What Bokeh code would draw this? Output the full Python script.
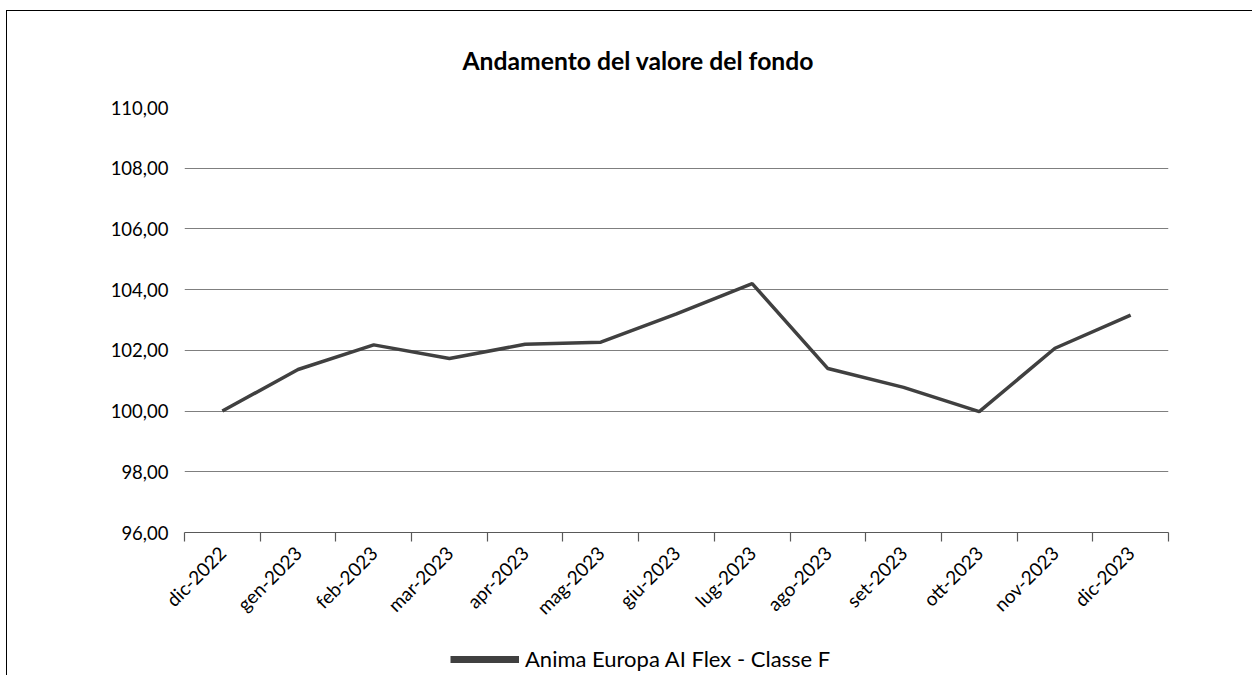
from bokeh.plotting import figure
from bokeh.layouts import column
from bokeh.models import (FixedTicker, Range1d, Legend, LegendItem, Title)
from bokeh.embed import file_html
from bokeh.resources import INLINE

# ---- data ----
months = ["dic-2022", "gen-2023", "feb-2023", "mar-2023", "apr-2023", "mag-2023",
          "giu-2023", "lug-2023", "ago-2023", "set-2023", "ott-2023", "nov-2023", "dic-2023"]
values = [100.00, 101.37, 102.18, 101.73, 102.20, 102.27,
          103.20, 104.20, 101.40, 100.78, 99.98, 102.07, 103.16]
y_ticks = [96, 98, 100, 102, 104, 106, 108, 110]
y_tick_labels = ["96,00", "98,00", "100,00", "102,00", "104,00", "106,00", "108,00", "110,00"]
series_name = "Anima Europa AI Flex - Classe F"
title_text = "Andamento del valore del fondo"

FONT = "Lato"
LINE_COLOR = "#404040"
n = len(months)
xs = [i + 0.5 for i in range(n)]

p = figure(width=1246, height=620, output_backend="svg", toolbar_location=None,
           x_range=Range1d(0, n), y_range=Range1d(96, 110),
           min_border_left=177, min_border_right=85, min_border_top=96, min_border_bottom=99)
p.margin = (10, 0, 0, 6)
p.outline_line_color = None
p.background_fill_color = "white"
p.border_fill_color = "white"
p.styles = {"border-left": "1.5px solid #000000", "border-top": "1.5px solid #000000"}

p.add_layout(Title(text=title_text, align="left", offset=278, text_font=FONT,
                   text_font_size="24.7px", text_font_style="bold", text_color="#000000",
                   standoff=65), "above")

# grid
p.xgrid.visible = False
p.ygrid.grid_line_color = "#7f7f7f"
p.ygrid.grid_line_width = 1.2
p.ygrid.ticker = FixedTicker(ticks=y_ticks[1:])

# y axis
p.yaxis.ticker = FixedTicker(ticks=y_ticks)
p.yaxis.major_label_overrides = {t: l for t, l in zip(y_ticks, y_tick_labels)}
p.yaxis.axis_line_color = None
p.yaxis.major_tick_line_color = None
p.yaxis.minor_tick_line_color = None
p.yaxis.major_label_text_font = FONT
p.yaxis.major_label_text_font_size = "18.5px"
p.yaxis.major_label_text_color = "#000000"
p.yaxis.major_label_standoff = 10

# x axis
p.xaxis.ticker = FixedTicker(ticks=xs, minor_ticks=list(range(n + 1)))
p.xaxis.major_label_overrides = {x: m for x, m in zip(xs, months)}
p.xaxis.major_label_orientation = 0.785398
p.xaxis.axis_line_color = "#595959"
p.xaxis.axis_line_width = 1.2
p.xaxis.major_tick_line_color = None
p.xaxis.minor_tick_line_color = "#595959"
p.xaxis.minor_tick_line_width = 1.2
p.xaxis.minor_tick_in = 0
p.xaxis.minor_tick_out = 9
p.xaxis.major_label_text_font = FONT
p.xaxis.major_label_text_font_size = "19px"
p.xaxis.major_label_text_color = "#000000"
p.xaxis.major_label_standoff = 8

p.line(xs, values, line_color=LINE_COLOR, line_width=3.5)

# legend strip below the chart (its frame is aligned with the main frame)
q = figure(width=1246, height=45, output_backend="svg", toolbar_location=None,
           x_range=Range1d(0, 1), y_range=Range1d(0, 1),
           min_border_left=0, min_border_right=0, min_border_top=0, min_border_bottom=0)
q.margin = (0, 0, 0, 6)
q.axis.visible = False
q.grid.visible = False
q.outline_line_color = None
q.border_fill_color = "white"
q.styles = {"border-left": "1.5px solid #000000"}
# same series, out of this strip's range: only its legend swatch shows
swatch = q.line(xs, values, line_color=LINE_COLOR, line_width=7)
legend = Legend(items=[LegendItem(label=series_name, renderers=[swatch])],
                location=(266, 3), padding=0, margin=0, border_line_color=None,
                background_fill_alpha=0, glyph_width=69, glyph_height=22,
                label_standoff=6, label_text_font=FONT, label_text_font_size="22px",
                label_text_color="#000000", label_height=22)
q.add_layout(legend, "center")

layout = column(p, q, spacing=0)
open("out.html", "w").write(file_html(layout, INLINE))
